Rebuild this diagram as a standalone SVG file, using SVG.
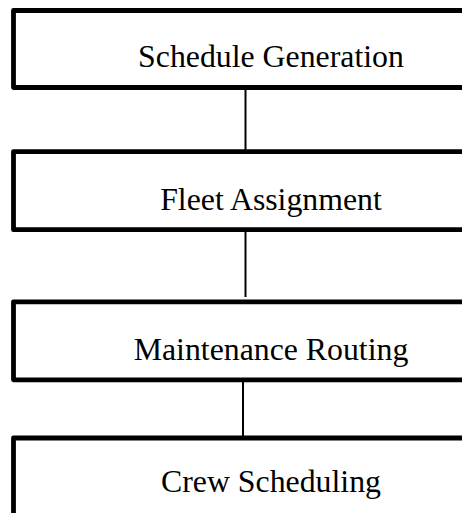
<svg xmlns="http://www.w3.org/2000/svg" width="462" height="513" viewBox="0 0 462 513">
  <style>
    .box { fill: #ffffff; stroke: #000000; stroke-width: 4.8; stroke-linejoin: round; }
    .label { font-family: "Liberation Serif", "Times New Roman", serif; font-size: 31.8px; fill: #000000; text-anchor: middle; }
    .link { stroke: #000000; stroke-width: 2; fill: none; }
  </style>
  <rect x="0" y="0" width="462" height="513" fill="#ffffff"/>

  <!-- connectors between consecutive stages -->
  <g id="connectors">
    <line class="link" x1="245.5" y1="90" x2="245.5" y2="150"/>
    <line class="link" x1="245.5" y1="232" x2="245.5" y2="297"/>
    <line class="link" x1="243" y1="374.5" x2="243" y2="436"/>
  </g>

  <g id="schedule-generation">
    <rect class="box" x="13.5" y="10.5" width="520" height="77"/>
    <text class="label" x="271" y="66.5">Schedule Generation</text>
  </g>

  <g id="fleet-assignment">
    <rect class="box" x="13.5" y="151.7" width="520" height="78"/>
    <text class="label" x="271" y="209.5">Fleet Assignment</text>
  </g>

  <g id="maintenance-routing">
    <rect class="box" x="13.5" y="301.8" width="520" height="78"/>
    <text class="label" x="271" y="360">Maintenance Routing</text>
  </g>

  <g id="crew-scheduling">
    <rect class="box" x="13.5" y="438" width="520" height="100"/>
    <text class="label" x="271" y="492">Crew Scheduling</text>
  </g>
</svg>
